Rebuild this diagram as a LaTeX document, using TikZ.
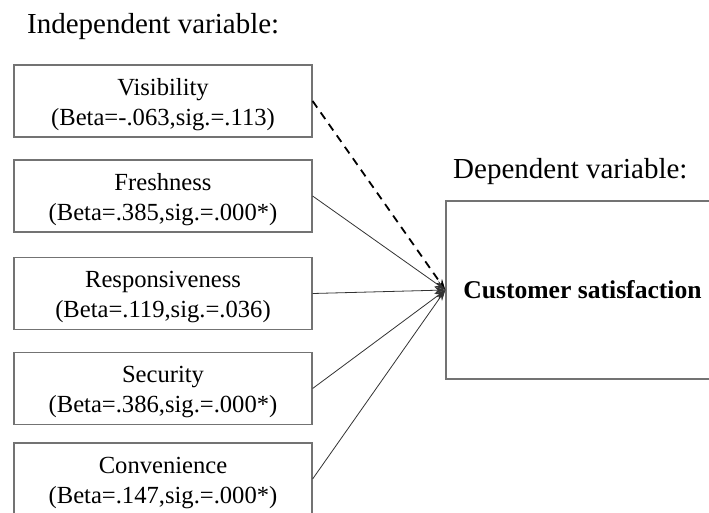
\documentclass[tikz,border=0pt]{standalone}
\usepackage{fontspec}
\setmainfont{Liberation Serif}
\usetikzlibrary{arrows.meta}

% a taller first line pushes both lines a little lower in the box
\newcommand{\topstrut}{\rule{0pt}{24pt}}

\tikzset{
	varbox/.style={draw=black!55, line width=1.2pt, minimum width=298pt, minimum height=72pt,
		inner sep=0pt, align=center, font=\fontsize{24.6}{30}\selectfont},
	depbox/.style={draw=black!55, line width=1.2pt, minimum width=273pt, minimum height=178pt,
		inner sep=0pt, font=\fontsize{25.6}{30}\selectfont\bfseries},
	heading/.style={anchor=base west, inner sep=0pt, font=\fontsize{29}{34}\selectfont},
	link/.style={draw=black!80, line width=0.8pt, -{Stealth[length=11pt,width=7pt]}}
}

\begin{document}
\begin{tikzpicture}[x=1pt, y=-1pt]
			\useasboundingbox (0,0) rectangle (709,512);
			\node[heading] (indep) at (27,33) {Independent variable:};
			\node[heading] (dep) at (453,178) {Dependent variable:};
			\node[varbox] (vis) at (163,101) {\topstrut Visibility\\(Beta=-.063,sig.=.113)};
			\node[varbox] (fre) at (163,196) {\topstrut Freshness\\(Beta=.385,sig.=.000*)};
			\node[varbox] (res) at (163,293.5) {\topstrut Responsiveness\\(Beta=.119,sig.=.036)};
			\node[varbox] (sec) at (163,388.5) {\topstrut Security\\(Beta=.386,sig.=.000*)};
			\node[varbox] (con) at (163,479) {\topstrut Convenience\\(Beta=.147,sig.=.000*)};
			\node[depbox] (cs) at (582.5,290) {Customer satisfaction};
			\draw[link, draw=black, line width=1.8pt, dash pattern=on 8pt off 6pt] (vis.east) -- (cs.west);
			\foreach \n in {fre, res, sec, con} {
				\draw[link] (\n.east) -- (cs.west);
			}
		\end{tikzpicture}
\end{document}
